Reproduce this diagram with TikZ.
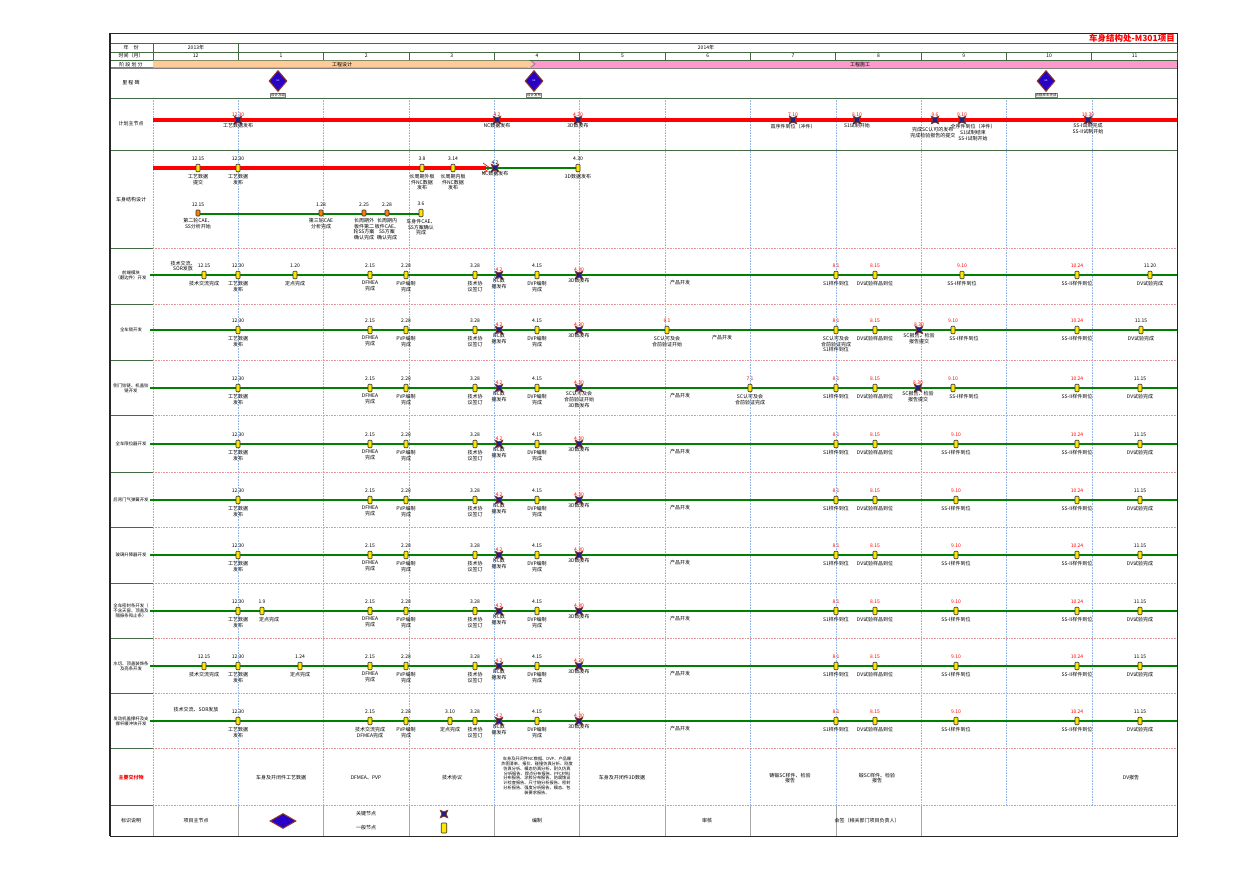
\documentclass[tikz,border=0pt]{standalone}
\usepackage{fontspec}
\setmainfont{Noto Sans CJK SC}
\usetikzlibrary{shapes,arrows.meta,positioning}
\definecolor{kblue}{RGB}{35,30,130}
\definecolor{kbrown}{RGB}{140,60,30}
\definecolor{mblue}{RGB}{40,0,200}
\definecolor{pgreen}{RGB}{0,128,0}
\definecolor{hgreen}{RGB}{70,105,70}
\definecolor{gridblue}{RGB}{150,180,225}
\definecolor{seppink}{RGB}{230,150,150}
\definecolor{phorange}{RGB}{255,204,153}
\definecolor{phpink}{RGB}{255,153,204}
\definecolor{myel}{RGB}{255,230,0}
\tikzset{
  gen/.style={draw=black!80, fill=myel, rectangle, rounded corners=0.8pt, minimum width=4pt, minimum height=7.5pt, inner sep=0pt, line width=0.6pt},
  gen2/.style={gen, fill=orange!85!brown, minimum height=6pt},
  key/.style={star, star points=4, star point ratio=0.4, minimum size=4.4pt, inner sep=0pt, fill=kblue, draw=kbrown, line width=0.6pt},
  mile/.style={diamond, fill=mblue, draw=kbrown, line width=1pt, minimum width=18pt, minimum height=21pt, inner sep=0pt, text=white, font=\fontsize{2.5}{3}\selectfont},
  mbox/.style={draw=gray, fill=white, inner sep=0.6pt, font=\fontsize{3.5}{4}\selectfont},
  dt/.style={font=\fontsize{5}{5.5}\selectfont, inner sep=0.5pt},
  lbl/.style={font=\fontsize{5}{5.6}\selectfont, align=center, inner sep=0.5pt},
  hd/.style={font=\fontsize{5}{6}\selectfont, align=center, inner sep=0pt},
  rowt/.style={font=\fontsize{4.4}{5.2}\selectfont, align=center, inner sep=0pt},
  bar/.style={draw=pgreen, line width=2.6pt},
  grid/.style={draw=gridblue, densely dotted, line width=0.6pt},
  sep/.style={draw=seppink, densely dotted, line width=0.6pt},
  hline/.style={draw=hgreen, line width=0.8pt}
}
% marker + date + label
\newcommand{\gnode}[7][gen]{%
  \node[#1] (#2) at (#3,#4) {};
  \node[dt, text=#6, above=2.5pt of #2] (#2-d) {#5};
  \node[lbl, below=1.5pt of #2] (#2-l) {#7};}
\newcommand{\knode}[6]{%
  \node[key] (#1) at (#2,#3) {};
  \node[dt, text=#5, above=0.5pt of #1] (#1-d) {#4};
  \node[lbl, below=0.5pt of #1] (#1-l) {#6};}

\begin{document}
\begin{tikzpicture}[x=1pt,y=-1pt]
\useasboundingbox (0,0) rectangle (1260,870);

%grid of the sheet
\foreach \i in {0,...,11} \draw[grid] ({153+85.35*\i},98) -- ({153+85.35*\i},805);
\foreach \i in {0,...,9} \draw[gray!70, line width=0.6pt] ({153+85.35*\i},805) -- ({153+85.35*\i},836);
\foreach \yy in {43,52,60,98,150} \draw[hline] (110,\yy) -- (1177,\yy);
\draw[gray, line width=1.6pt] (110,68) -- (1177,68);
\foreach \yy in {248,304,360,415,472,527,583,638,693,748,805}{
  \draw[hline] (110,\yy) -- (153,\yy);
  \draw[sep] (153,\yy) -- (1177,\yy);
}
\draw[hline] (153,43) -- (153,68);
\draw[hline] (238,43) -- (238,52);
\draw[black!85, line width=1pt] (110,33) rectangle (1177,836);
\draw[black!85, line width=1.4pt] (110,33) -- (110,836);

\node[font=\fontsize{8.5}{9}\selectfont\bfseries, text=red, anchor=east, inner sep=0pt] (title) at (1175,38.5) {车身结构处-M301项目};

\node[hd] (h-year) at (131,47.5) {年\quad 份};
\node[hd] (y2013) at (196,47.5) {2013年};
\node[hd] (y2014) at (706,47.5) {2014年};
\node[hd] (h-month) at (131,56) {时间（月）};
\foreach \m [count=\i from 0] in {12,1,2,3,4,5,6,7,8,9,10,11}{
  \node[hd] (mon\i) at ({153+85.35*(\i+0.5)},56) {\m};
  \draw[hline] ({153+85.35*(\i+1)},52) -- ({153+85.35*(\i+1)},60);
}

%phases
\node[hd] (h-phase) at (131,64.5) {阶 段 划 分};
\fill[phpink] (528,60.5) rectangle (1177,67.5);
\fill[phorange] (153,60.5) -- (529,60.5) -- (533,64) -- (529,67.5) -- (153,67.5) -- cycle;
\draw[black!60, line width=0.4pt] (531,60.5) -- (535,64) -- (531,67.5);
\node[hd] (ph1) at (342,64.5) {工程设计};
\node[hd] (ph2) at (860,64.5) {工程施工};

%milestones
\node[hd] (h-mile) at (131,83) {里 程 碑};
\node[mile] (ms1) at (278,81) {G3};
\node[mbox, below=1pt of ms1] (ms1-l) {设计冻结};
\node[mile] (ms2) at (534,81) {G4};
\node[mbox, below=1pt of ms2] (ms2-l) {设计发布};
\node[mile] (ms3) at (1046,81) {G5};
\node[mbox, below=1pt of ms3] (ms3-l) {合格样车完成};

%main plan nodes
\node[hd] (h-plan) at (131,124) {计划主节点};
\coordinate (p-s) at (153,120);
\coordinate (p-e) at (1177,120);
\draw[red, line width=4.5pt] (p-s) -- (p-e);
\knode{p-1}{238}{120}{12.30}{red}{工艺数据发布}
\knode{p-2}{497}{120}{4.2}{red}{NC数据发布}
\knode{p-3}{578}{120}{4.20}{red}{3D数发布}
\knode{p-4}{793}{120}{7.10}{red}{首序件到位（冲件）}
\knode{p-5}{857}{120}{8.10}{red}{S1试制开始}
\node[key] (p-6) at (935,120) {};
\node[dt, text=red, above=0.5pt of p-6] (p-6-d) {9.6};
\node[lbl, anchor=north east] (p-6-l) at (956,127) {完成SC认可的发布\\完成检验报告的提交};
\node[key] (p-7) at (962,120) {};
\node[dt, text=red, above=0.5pt of p-7] (p-7-d) {9.10};
\node[lbl, anchor=north] (p-7-l) at (973,124) {全序件到位（冲件）\\S1试制结束\\SS-I试制开始};
\knode{p-8}{1088}{120}{10.30}{red}{SS-I试制完成\\SS-II试制开始}

%body structure design
\node[hd] (h-cs) at (131,200) {车身结构设计};
\coordinate (cs-s) at (153,168);
\coordinate (cs-m) at (486,168);
\coordinate (cs-e) at (579,168);
\draw[red, line width=4.5pt] (cs-s) -- (cs-m);
\draw[red, line width=0.7pt] (483,163) -- (490,168) -- (483,173);
\draw[pgreen, line width=2pt] (cs-m) -- (cs-e);
\gnode{cs-1}{198}{168}{12.15}{black}{工艺数据\\提交}
\gnode{cs-2}{238}{168}{12.30}{black}{工艺数据\\发布}
\gnode{cs-3}{422}{168}{3.8}{black}{长周期外板\\件NC数据\\发布}
\gnode{cs-4}{453}{168}{3.14}{black}{长周期内板\\件NC数据\\发布}
\knode{cs-5}{495}{168}{4.2}{black}{NC数据发布}
\gnode{cs-6}{578}{168}{4.30}{black}{3D数据发布}
\coordinate (cs2-s) at (198,214);
\coordinate (cs2-e) at (421,214);
\draw[pgreen, line width=1.2pt] (cs2-s) -- (cs2-e);
\gnode[gen2]{cs-7}{198}{213}{12.15}{black}{第二轮CAE、\\SS分析开始}
\gnode[gen2]{cs-8}{321}{213}{1.28}{black}{第三轮CAE\\分析完成}
\gnode[gen2]{cs-9}{364}{213}{2.25}{black}{长周期外\\板件第二\\轮SS方案\\确认完成}
\gnode[gen2]{cs-10}{387}{213}{2.28}{black}{长周期内\\板件CAE、\\SS方案\\确认完成}
\gnode{cs-11}{421}{213}{3.6}{black}{车身件CAE、\\SS方案确认\\完成}

%part rows, common nodes
\foreach \r/\y in {ra/275,rb/330,rc/388,rd/444,re/500,rf/555,rg/611,rh/666,ri/721}{
  \coordinate (\r-s) at (150,\y);
  \coordinate (\r-e) at (1177,\y);
  \draw[bar] (\r-s) -- (\r-e);
  \gnode{\r-1}{238}{\y}{12.30}{black}{工艺数据\\发布}
  \gnode{\r-3}{406}{\y}{2.28}{black}{PVP编制\\完成}
  \gnode{\r-4}{475}{\y}{3.28}{black}{技术协\\议签订}
  \knode{\r-5}{499}{\y}{4.2}{red}{NC数\\据发布}
  \gnode{\r-6}{537}{\y}{4.15}{black}{DVP编制\\完成}
  \gnode{\r-9}{875}{\y}{8.15}{red}{DV试验样品到位}
  \gnode{\r-11}{1077}{\y}{10.24}{red}{SS-II样件到位}
}

%row a
\node[rowt] (ra-t) at (131,275) {前端模块\\（翻边件）开发};
\node[lbl] (ra-sor) at (183,266) {技术交流、\\SOR发放};
\gnode{ra-0}{204}{275}{12.15}{black}{技术交流完成}
\gnode{ra-2}{295}{275}{1.20}{black}{定点完成}
\gnode{ra-2b}{370}{275}{2.15}{black}{DFMEA\\完成}
\knode{ra-7}{579}{275}{4.30}{red}{3D数发布}
\node[lbl] (ra-dev) at (680,283) {产品开发};
\gnode{ra-8}{836}{275}{8.1}{red}{S1样件到位}
\gnode{ra-10}{962}{275}{9.10}{red}{SS-I样件到位}
\gnode{ra-12}{1150}{275}{11.20}{black}{DV试验完成}

%row b
\node[rowt] (rb-t) at (131,330) {全车锁开发};
\gnode{rb-2b}{370}{330}{2.15}{black}{DFMEA\\完成}
\knode{rb-7}{579}{330}{4.30}{red}{3D数发布}
\gnode{rb-7b}{667}{330}{6.1}{red}{SC认可及会\\合前验证开始}
\node[lbl] (rb-dev) at (722,338) {产品开发};
\gnode{rb-8}{836}{330}{8.1}{red}{SC认可及会\\合前验证完成\\S1样件到位}
\knode{rb-8b}{919}{330}{8.30}{red}{SC报告、检验\\报告提交}
\gnode{rb-10}{953}{330}{9.10}{red}{\hspace*{22pt}SS-I样件到位}
\gnode{rb-12}{1141}{330}{11.15}{black}{DV试验完成}

%row c
\node[rowt] (rc-t) at (131,388) {侧门铰链、机盖铰\\链开发};
\gnode{rc-2b}{370}{388}{2.15}{black}{DFMEA\\完成}
\knode{rc-7}{579}{388}{4.30}{red}{SC认可及会\\合前验证开始\\3D数发布}
\node[lbl] (rc-dev) at (680,396) {产品开发};
\gnode{rc-7b}{750}{388}{7.1}{red}{SC认可及会\\合前验证完成}
\gnode{rc-8}{836}{388}{8.1}{red}{S1样件到位}
\knode{rc-8b}{918}{388}{8.30}{red}{SC报告、检验\\报告提交}
\gnode{rc-10}{953}{388}{9.10}{red}{\hspace*{22pt}SS-I样件到位}
\gnode{rc-12}{1140}{388}{11.15}{black}{DV试验完成}

%rows d, e, f
\node[rowt] (rd-t) at (131,444) {全车限位器开发};
\node[rowt] (re-t) at (131,500) {后背门气弹簧开发};
\node[rowt] (rf-t) at (131,555) {玻璃升降器开发};
\foreach \r/\y in {rd/444,re/500,rf/555}{
  \gnode{\r-2b}{370}{\y}{2.15}{black}{DFMEA\\完成}
  \knode{\r-7}{579}{\y}{4.30}{red}{3D数发布}
  \node[lbl] (\r-dev) at (680,\y+8) {产品开发};
  \gnode{\r-8}{836}{\y}{8.1}{red}{S1样件到位}
  \gnode{\r-10}{956}{\y}{9.10}{red}{SS-I样件到位}
  \gnode{\r-12}{1140}{\y}{11.15}{black}{DV试验完成}
}

%row g
\node[rowt] (rg-t) at (131,611) {全车密封条开发（\\不含天窗、顶盖及\\隔振条和止条）};
\gnode{rg-2}{262}{611}{1.9}{black}{\hspace*{14pt}定点完成}
%row h
\node[rowt] (rh-t) at (131,666) {水切、顶盖装饰条\\及亮条开发};
\gnode{rh-0}{204}{666}{12.15}{black}{技术交流完成}
\gnode{rh-2}{300}{666}{1.24}{black}{定点完成}
\foreach \r/\y in {rg/611,rh/666}{
  \gnode{\r-2b}{370}{\y}{2.15}{black}{DFMEA\\完成}
  \knode{\r-7}{579}{\y}{4.30}{red}{3D数发布}
  \node[lbl] (\r-dev) at (680,\y+8) {产品开发};
  \gnode{\r-8}{836}{\y}{8.1}{red}{S1样件到位}
  \gnode{\r-10}{956}{\y}{9.10}{red}{SS-I样件到位}
  \gnode{\r-12}{1140}{\y}{11.15}{black}{DV试验完成}
}

%row i
\node[rowt] (ri-t) at (131,721) {发动机盖撑杆及支\\撑杆缓冲块开发};
\node[lbl] (ri-sor) at (196,710) {技术交流、SOR发放};
\gnode{ri-2b}{370}{721}{2.15}{black}{技术交流完成\\DFMEA完成}
\gnode{ri-2c}{450}{721}{3.10}{black}{定点完成}
\knode{ri-7}{579}{721}{4.30}{red}{3D数发布}
\node[lbl] (ri-dev) at (680,729) {产品开发};
\gnode{ri-8}{836}{721}{8.1}{red}{S1样件到位}
\gnode{ri-10}{956}{721}{9.10}{red}{SS-I样件到位}
\gnode{ri-12}{1140}{721}{11.15}{black}{DV试验完成}

%deliverables
\node[hd, text=red, font=\fontsize{5}{6}\selectfont\bfseries] (h-del) at (131,778) {主要交付物};
\node[lbl] (dl-1) at (281,778) {车身及开闭件工艺数据};
\node[lbl] (dl-2) at (366,778) {DFMEA、PVP};
\node[lbl] (dl-3) at (452,778) {技术协议};
\node[lbl, font=\fontsize{4.2}{4.8}\selectfont] (dl-4) at (537,776) {车身及开闭件NC数据、DVP、产品爆\\炸图清单、报价、碰撞仿真分析、刚度\\仿真分析、模态仿真分析、耐久仿真\\分析报告、焊点分布报告、PFC材料\\分布报告、涂胶分布报告、防腐蚀设\\计检查报告、尺寸链分析报告、密封\\分析报告、强度分析报告、模态、包\\装要求报告、};
\node[lbl] (dl-5) at (622,778) {车身及开闭件3D数据};
\node[lbl] (dl-7) at (790,778) {铸锻SC样件、检验\\报告};
\node[lbl] (dl-8) at (877,778) {锻SC样件、检验\\报告};
\node[lbl] (dl-11) at (1131,778) {DV报告};

%legend
\node[hd] (h-leg) at (131,821) {标识说明};
\node[lbl] (lg-1) at (196,821) {项目主节点};
\node[mile, minimum width=26pt, minimum height=15pt] (lg-d) at (283,821) {};
\node[lbl] (lg-k) at (366,814) {关键节点};
\node[lbl] (lg-g) at (366,828) {一般节点};
\node[key] (lg-ks) at (444,814) {};
\node[gen, minimum width=5.5pt, minimum height=10pt] (lg-gs) at (444,828) {};
\node[lbl] (lg-2) at (537,821) {编制};
\node[lbl] (lg-3) at (707,821) {审核};
\node[lbl] (lg-4) at (867,821) {会签（相关部门项目负责人）};
\end{tikzpicture}
\end{document}
